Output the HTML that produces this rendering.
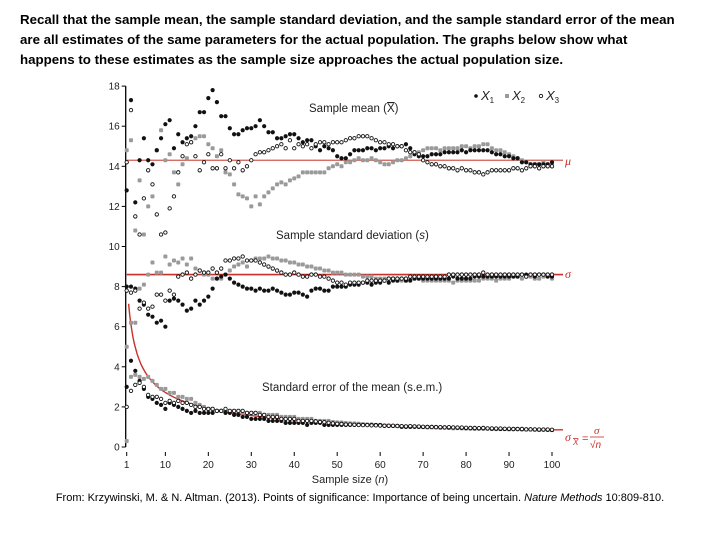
<!DOCTYPE html>
<html><head><meta charset="utf-8"><style>
html,body{margin:0;padding:0;background:#fff;width:720px;height:540px;overflow:hidden}
#intro{position:absolute;left:20px;top:10px;width:700px;font:bold 13.3px/20px "Liberation Sans",sans-serif;color:#000;white-space:nowrap}
#cite{position:absolute;left:0;width:720px;top:492px;text-align:center;font:11px "Liberation Sans",sans-serif;color:#000}
svg{position:absolute;left:0;top:0}
</style></head><body>
<div id="intro">Recall that the sample mean, the sample standard deviation, and the sample standard error of the mean<br>are all estimates of the same parameters for the actual population. The graphs below show what<br>happens to these estimates as the sample size approaches the actual population size.</div>
<svg id="chart" width="720" height="540"></svg>
<div id="cite">From: Krzywinski, M. &amp; N. Altman. (2013). Points of significance: Importance of being uncertain. <i>Nature Methods</i> 10:809-810.</div>
<script>
const yTicks=[0,2,4,6,8,10,12,14,16,18];
const xTicks=[1,10,20,30,40,50,60,70,80,90,100];
const mu=14.3, sigma=8.6;
const meanX1=[12.8,17.3,12.2,14.3,15.4,14.3,14.1,14.8,15.4,16.1,16.3,14.9,15.6,15.2,15.4,15.5,16.0,16.7,16.7,17.4,17.8,17.2,16.5,16.5,15.9,15.6,15.6,15.8,15.9,15.9,16.0,16.3,16.0,15.7,15.7,15.4,15.4,15.5,15.6,15.6,15.4,15.2,15.3,15.3,15.0,14.8,15.0,14.9,14.8,14.5,14.4,14.4,14.6,14.8,14.8,14.8,14.9,14.9,14.8,14.9,14.9,15.0,14.9,15.0,15.0,15.1,14.9,14.6,14.5,14.5,14.5,14.6,14.6,14.6,14.7,14.7,14.7,14.7,14.8,14.7,14.8,14.8,14.8,14.8,14.8,14.7,14.6,14.6,14.5,14.5,14.4,14.4,14.2,14.2,14.1,14.1,14.1,14.1,14.1,14.2];
const meanX2=[14.8,15.3,10.8,13.3,10.6,12.0,12.5,14.8,15.8,14.3,14.6,13.7,13.1,14.1,14.4,15.2,15.4,15.5,15.5,15.1,14.9,14.5,14.8,13.7,13.6,13.1,12.6,12.5,12.4,12.0,12.5,12.1,12.5,12.7,12.9,13.1,13.2,13.1,13.3,13.4,13.5,13.7,13.7,13.7,13.7,13.7,13.7,13.9,14.0,14.1,14.0,14.2,14.2,14.3,14.4,14.3,14.3,14.4,14.3,14.2,14.1,14.1,14.2,14.3,14.3,14.4,14.5,14.7,14.7,14.8,14.9,14.9,14.9,14.8,14.9,14.9,14.9,14.9,15.0,15.0,14.9,15.0,15.0,15.1,15.1,14.9,14.8,14.8,14.7,14.6,14.5,14.4,14.3,14.2,14.1,14.1,14.1,14.2,14.1,14.1];
const meanX3=[14.2,16.8,11.5,10.6,12.4,13.8,13.1,11.6,10.6,10.7,11.9,12.5,13.7,14.5,15.1,15.2,14.5,13.8,14.2,14.6,13.9,13.9,14.6,13.9,14.3,13.9,14.2,13.8,14.0,14.3,14.6,14.7,14.7,14.8,14.9,15.0,15.1,14.9,15.3,14.9,15.1,15.0,15.1,14.9,15.1,15.2,15.2,15.1,15.2,15.2,15.2,15.3,15.4,15.4,15.5,15.5,15.5,15.4,15.3,15.2,15.2,15.1,15.1,15.0,15.0,14.8,14.7,14.7,14.6,14.3,14.2,14.1,14.1,14.0,14.0,13.9,13.9,13.8,13.9,13.8,13.8,13.7,13.7,13.6,13.7,13.8,13.8,13.8,13.8,13.8,13.9,13.9,13.8,13.9,14.0,14.0,13.9,14.0,14.0,14.0];
const sdX1=[8.0,8.0,7.9,7.3,7.1,6.6,6.5,6.2,6.3,6.0,7.3,7.4,7.3,7.1,6.8,6.9,7.3,7.1,7.3,7.5,7.9,8.4,8.5,8.6,8.4,8.2,8.1,8.0,7.9,7.9,7.8,7.9,7.8,7.8,7.9,7.8,7.7,7.6,7.6,7.7,7.7,7.6,7.5,7.8,7.9,7.9,7.8,7.8,8.0,8.0,8.0,8.0,8.1,8.1,8.1,8.2,8.2,8.1,8.2,8.2,8.3,8.2,8.3,8.3,8.4,8.3,8.3,8.4,8.4,8.4,8.4,8.4,8.4,8.4,8.4,8.4,8.5,8.4,8.4,8.4,8.4,8.5,8.5,8.5,8.5,8.5,8.5,8.5,8.5,8.5,8.5,8.5,8.6,8.6,8.6,8.5,8.6,8.6,8.5,8.5];
const sdX2=[5.0,6.2,6.2,7.9,8.1,8.6,9.2,8.7,8.7,9.5,9.1,9.3,9.2,9.4,9.1,9.4,8.9,8.8,8.6,8.6,8.4,8.4,8.4,8.6,8.8,9.0,9.1,9.2,9.0,9.3,9.4,9.4,9.4,9.5,9.4,9.4,9.3,9.3,9.2,9.2,9.1,9.1,9.0,9.0,8.9,8.9,8.8,8.8,8.7,8.7,8.7,8.6,8.6,8.6,8.6,8.5,8.5,8.5,8.4,8.4,8.4,8.4,8.4,8.3,8.3,8.3,8.4,8.4,8.4,8.3,8.3,8.3,8.3,8.3,8.3,8.3,8.2,8.3,8.3,8.3,8.3,8.3,8.3,8.4,8.4,8.4,8.3,8.4,8.4,8.4,8.5,8.5,8.4,8.5,8.5,8.4,8.4,8.5,8.5,8.4];
const sdX3=[7.8,7.7,7.8,6.9,7.2,6.9,7.0,7.6,7.6,7.3,7.8,7.6,8.5,8.6,8.7,8.4,8.6,8.8,8.7,8.7,8.9,8.7,8.9,9.3,9.3,9.4,9.4,9.5,9.3,9.3,9.3,9.2,9.1,9.0,8.9,8.8,8.7,8.6,8.6,8.7,8.6,8.5,8.5,8.6,8.6,8.5,8.5,8.4,8.3,8.2,8.2,8.1,8.2,8.2,8.2,8.2,8.3,8.3,8.3,8.3,8.3,8.4,8.4,8.4,8.4,8.4,8.5,8.5,8.5,8.5,8.5,8.5,8.5,8.5,8.5,8.6,8.6,8.6,8.6,8.6,8.6,8.6,8.6,8.7,8.6,8.6,8.6,8.6,8.6,8.6,8.6,8.6,8.6,8.5,8.6,8.6,8.6,8.6,8.6,8.6];
const semX1=[3.0,4.3,3.8,3.3,2.9,2.5,2.4,2.2,2.1,1.9,2.2,2.1,2.0,1.9,1.8,1.7,1.8,1.7,1.7,1.7,1.7,1.8,1.8,1.7,1.7,1.6,1.6,1.5,1.5,1.4,1.4,1.4,1.4,1.3,1.3,1.3,1.3,1.2,1.2,1.2,1.2,1.2,1.1,1.2,1.2,1.2,1.1,1.1,1.1,1.1,1.1,1.1,1.1,1.1,1.1,1.1,1.1,1.1,1.1,1.1,1.05,1.05,1.05,1.05,1.0,1.0,1.0,1.0,1.0,1.0,1.0,1.0,1.0,0.98,0.98,0.97,0.97,0.96,0.95,0.94,0.93,0.93,0.93,0.92,0.92,0.91,0.91,0.9,0.9,0.9,0.89,0.89,0.89,0.88,0.88,0.87,0.87,0.87,0.86,0.85];
const semX2=[0.3,3.5,3.6,3.5,3.4,3.5,3.3,3.1,2.9,2.9,2.7,2.7,2.5,2.5,2.4,2.4,2.2,2.1,2.0,1.9,1.9,1.8,1.8,1.8,1.8,1.8,1.8,1.7,1.7,1.7,1.7,1.7,1.6,1.6,1.6,1.6,1.5,1.5,1.5,1.5,1.4,1.4,1.4,1.4,1.3,1.3,1.3,1.3,1.25,1.23,1.22,1.2,1.18,1.17,1.16,1.14,1.12,1.12,1.1,1.09,1.08,1.07,1.06,1.04,1.03,1.02,1.02,1.02,1.01,0.99,0.98,0.98,0.97,0.96,0.96,0.95,0.93,0.94,0.93,0.92,0.92,0.91,0.91,0.92,0.91,0.9,0.89,0.89,0.89,0.88,0.89,0.89,0.87,0.87,0.87,0.86,0.85,0.86,0.85,0.84];
const semX3=[2.0,2.8,3.1,3.2,3.0,2.6,2.5,2.5,2.4,2.2,2.3,2.2,2.3,2.2,2.2,2.1,2.0,2.0,1.9,1.9,1.9,1.8,1.8,1.9,1.8,1.8,1.8,1.8,1.7,1.7,1.7,1.6,1.6,1.5,1.5,1.5,1.4,1.4,1.4,1.4,1.3,1.3,1.3,1.3,1.28,1.25,1.24,1.21,1.18,1.16,1.15,1.12,1.12,1.11,1.1,1.09,1.09,1.08,1.08,1.07,1.06,1.06,1.06,1.05,1.04,1.03,1.04,1.03,1.02,1.01,1.0,1.0,0.99,0.99,0.98,0.99,0.98,0.97,0.97,0.96,0.95,0.95,0.94,0.95,0.93,0.93,0.92,0.92,0.91,0.91,0.9,0.9,0.9,0.88,0.88,0.88,0.87,0.87,0.87,0.86];

const NS='http://www.w3.org/2000/svg';
const svg=document.getElementById('chart');
const X0=126.7, XU=(552-126.7)/99, Y0=447, YU=20.05;
function xs(n){return X0+(n-1)*XU;}
function ys(v){return Y0-v*YU;}
function mk(tag,attrs,parent){const e=document.createElementNS(NS,tag);for(const k in attrs)e.setAttribute(k,attrs[k]);(parent||svg).appendChild(e);return e;}
function txt(x,y,s,attrs){const e=mk('text',Object.assign({x:x,y:y,'font-family':'Liberation Sans, sans-serif'},attrs));e.innerHTML=s;return e;}

const ax=mk('g',{});


mk('line',{x1:X0-1,y1:ys(18),x2:X0-1,y2:Y0,stroke:'#000','stroke-width':1.3},ax);
yTicks.forEach(v=>{
  mk('line',{x1:X0-5,y1:ys(v),x2:X0-1,y2:ys(v),stroke:'#000','stroke-width':1},ax);
  const t=txt(X0-7,ys(v)+3.5,String(v),{'font-size':10,'text-anchor':'end',fill:'#222'});
  
  
  ax.appendChild(t);
});
const xa=mk('g',{});


xTicks.forEach(v=>{
  mk('line',{x1:xs(v),y1:Y0+5,x2:xs(v),y2:Y0+9,stroke:'#000','stroke-width':1},xa);
  const t=txt(xs(v),Y0+21,String(v),{'font-size':10,'text-anchor':'middle',fill:'#222'});
  
  
  xa.appendChild(t);
});
const xt=txt(350,483,'Sample size (<tspan font-style="italic">n</tspan>)',{'font-size':11,'text-anchor':'middle',fill:'#222'});



const muL=mk('line',{x1:X0,y1:ys(mu),x2:563,y2:ys(mu),stroke:'#d05a50','stroke-width':1.2});


const sgL=mk('line',{x1:X0,y1:ys(sigma),x2:563,y2:ys(sigma),stroke:'#c8302a','stroke-width':1.6});


let d='';
for(let n=1.45;n<=100;n+=0.25){d+=(d?'L':'M')+xs(n).toFixed(1)+','+ys(sigma/Math.sqrt(n)).toFixed(1);}
d+='L563,'+ys(sigma/10).toFixed(1);
const cv=mk('path',{d:d,fill:'none',stroke:'#c8302a','stroke-width':1.4});



function series(arr,kind,name){
  const g=mk('g',{});
  
  
  arr.forEach((v,i)=>{
    const cx=xs(i+1), cy=ys(v);
    let c;
    if(kind==='x1') c=mk('circle',{cx:cx,cy:cy,r:2.1,fill:'#111'},g);
    else if(kind==='x2') c=mk('rect',{x:cx-2,y:cy-2,width:4,height:4,rx:1,fill:'#9a9a9a'},g);
    else c=mk('circle',{cx:cx,cy:cy,r:1.7,fill:'#fff',stroke:'#111','stroke-width':0.9},g);
    
    
  });
}
series(meanX2,'x2','mean-x2');series(meanX1,'x1','mean-x1');series(meanX3,'x3','mean-x3');
series(sdX2,'x2','sd-x2');series(sdX1,'x1','sd-x1');series(sdX3,'x3','sd-x3');
series(semX2,'x2','sem-x2');series(semX1,'x1','sem-x1');series(semX3,'x3','sem-x3');

function lab(x,y,s,name){const t=txt(x,y,s,{'font-size':11.5,fill:'#222'});}
lab(309,112,'Sample mean (<tspan text-decoration="overline">X</tspan>)','mean-panel-title');
lab(276,239,'Sample standard deviation (<tspan font-style="italic">s</tspan>)','sd-panel-title');
lab(262,391,'Standard error of the mean (s.e.m.)','sem-panel-title');

const lg=mk('g',{});


mk('circle',{cx:476,cy:96,r:1.8,fill:'#111'},lg);
txt(481,100,'<tspan font-style="italic">X</tspan><tspan font-size="8" dy="3">1</tspan>',{'font-size':13,fill:'#222'});
mk('rect',{x:505,y:94,width:4,height:4,fill:'#9a9a9a'},lg);
txt(512,100,'<tspan font-style="italic">X</tspan><tspan font-size="8" dy="3">2</tspan>',{'font-size':13,fill:'#222'});
mk('circle',{cx:541,cy:96,r:1.7,fill:'#fff',stroke:'#111','stroke-width':0.9},lg);
txt(546,100,'<tspan font-style="italic">X</tspan><tspan font-size="8" dy="3">3</tspan>',{'font-size':13,fill:'#222'});

const ma=txt(565,165,'μ',{'font-size':12,fill:'#c8302a','font-style':'italic','font-family':'Liberation Serif, serif'});

const sa=txt(565,278,'σ',{'font-size':12,fill:'#c8302a','font-style':'italic','font-family':'Liberation Serif, serif'});

txt(565,441,'σ',{'font-style':'italic','font-size':12,fill:'#c8302a','font-family':'Liberation Serif, serif'});
txt(573,445,'<tspan text-decoration="overline">X</tspan>',{'font-size':8,fill:'#c8302a','font-style':'italic'});
txt(582,442,'=',{'font-size':11,fill:'#c8302a'});
txt(594,434,'σ',{'font-size':11,fill:'#c8302a','font-style':'italic','font-family':'Liberation Serif, serif'});
mk('line',{x1:590,y1:437,x2:604,y2:437,stroke:'#c8302a','stroke-width':0.8});
txt(590,448,'√<tspan font-style="italic">n</tspan>',{'font-size':10,fill:'#c8302a'});
</script>
</body></html>
